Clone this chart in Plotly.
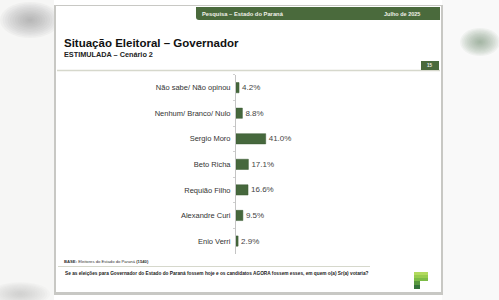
import plotly.graph_objects as go

categories = ["Não sabe/ Não opinou", "Nenhum/ Branco/ Nulo", "Sergio Moro", "Beto Richa",
              "Requião Filho", "Alexandre Curi", "Enio Verri"]
values = [4.2, 8.8, 41.0, 17.1, 16.6, 9.5, 2.9]

W, H = 499, 300
def px(x): return x / W
def py(y): return 1 - y / H

GREEN = "#4a6a3c"
BAR = "#46683d"
FONT = "Liberation Sans, Arial, sans-serif"

fig = go.Figure()
fig.add_trace(go.Bar(
    x=values, y=categories, orientation="h",
    marker=dict(color=BAR, line=dict(color="#3a5a32", width=0.5)),
    width=0.4,
    text=[f"{v:.1f}%" for v in values], textposition="outside",
    textfont=dict(family=FONT, size=8, color="#444444"),
    cliponaxis=False, hoverinfo="skip",
))

shapes = []
# background blobs (blurred photo edges)
def blob(cx, cy, rx, ry, color, steps=12, op=0.06):
    for i in range(steps):
        f = 1 - i / steps
        shapes.append(dict(type="circle", xref="paper", yref="paper",
                           x0=px(cx - rx * f), x1=px(cx + rx * f), y0=py(cy + ry * f), y1=py(cy - ry * f),
                           fillcolor=color, opacity=op, line=dict(width=0), layer="below"))
shapes.append(dict(type="rect", xref="paper", yref="paper", x0=0, x1=px(54), y0=0, y1=1,
                   fillcolor="#f6f6f5", line=dict(width=0), layer="below"))
shapes.append(dict(type="rect", xref="paper", yref="paper", x0=px(442), x1=1, y0=0, y1=1,
                   fillcolor="#f9f9f9", line=dict(width=0), layer="below"))
blob(30, 20, 30, 18, "#8a8a8a", op=0.06)
blob(480, 42, 20, 14, "#6f8f6c", op=0.07)
blob(20, 294, 30, 12, "#b0b0b0", op=0.05)
# card shadow and card
shapes.append(dict(type="rect", xref="paper", yref="paper", x0=px(54), x1=px(443), y0=py(295), y1=py(5),
                   fillcolor="#c8c8c4", line=dict(width=0), layer="below"))
shapes.append(dict(type="rect", xref="paper", yref="paper", x0=px(56), x1=px(441), y0=py(292), y1=py(6),
                   fillcolor="#ffffff", line=dict(width=0), layer="below"))
# header bar
shapes.append(dict(type="path", xref="paper", yref="paper",
                   path=f"M {px(199)} {py(7)} L {px(440)} {py(7)} L {px(440)} {py(20)} L {px(199)} {py(20)} Q {px(196)} {py(20)} {px(196)} {py(17)} L {px(196)} {py(7)} Z",
                   fillcolor=GREEN, line=dict(width=0), layer="below"))
# header separator line
shapes.append(dict(type="line", xref="paper", yref="paper", x0=px(57), x1=px(440), y0=py(70.5), y1=py(70.5),
                   line=dict(color="#d6d8cc", width=1.5), layer="below"))
# page number box
shapes.append(dict(type="rect", xref="paper", yref="paper", x0=px(421), x1=px(439), y0=py(70), y1=py(61),
                   fillcolor=GREEN, line=dict(width=0), layer="below"))
# footer line
shapes.append(dict(type="line", xref="paper", yref="paper", x0=px(58), x1=px(370), y0=py(266.5), y1=py(266.5),
                   line=dict(color="#d6d8cc", width=1), layer="below"))
# logo
logo = [("#b2da5e", 272, 275), ("#98cc4e", 275, 278), ("#7cbc46", 278, 281), ("#58983e", 281, 285), ("#35733a", 285, 289)]
for col, y0, y1 in logo:
    x1 = 428 if y0 < 281 else 420
    shapes.append(dict(type="rect", xref="paper", yref="paper", x0=px(414), x1=px(x1), y0=py(y1), y1=py(y0),
                       fillcolor=col, line=dict(width=0), layer="below"))

annotations = [
    dict(text="<b>Pesquisa – Estado do Paraná</b>", x=px(200), y=py(13.5), xanchor="left", yanchor="middle",
         font=dict(family=FONT, size=5.8, color="#f0f0e8")),
    dict(text="<b>Julho de 2025</b>", x=px(382), y=py(13.5), xanchor="left", yanchor="middle",
         font=dict(family=FONT, size=5.5, color="#f0f0e8")),
    dict(text="<b>Situação Eleitoral – Governador</b>", x=px(62), y=py(43), xanchor="left", yanchor="middle",
         font=dict(family=FONT, size=11.5, color="#111111")),
    dict(text="<b>ESTIMULADA – Cenário 2</b>", x=px(62), y=py(54.5), xanchor="left", yanchor="middle",
         font=dict(family=FONT, size=7.3, color="#222222")),
    dict(text="<b>15</b>", x=px(430), y=py(65.5), xanchor="center", yanchor="middle",
         font=dict(family=FONT, size=4.5, color="#eeeeee")),
    dict(text="<b>BASE:</b> Eleitores do Estado do Paraná <b>(1540)</b>", x=px(62), y=py(261.5),
         xanchor="left", yanchor="middle", font=dict(family=FONT, size=4.2, color="#333333")),
    dict(text="<b>Se as eleições para Governador do Estado do Paraná fossem hoje e os candidatos AGORA fossem esses, em quem o(a) Sr(a) votaria?</b>",
         x=px(63), y=py(273.5), xanchor="left", yanchor="middle", font=dict(family=FONT, size=4.75, color="#222222")),
]
for a in annotations:
    a.update(xref="paper", yref="paper", showarrow=False)

fig.update_layout(
    width=W, height=H, margin=dict(l=0, r=0, t=0, b=0),
    paper_bgcolor="#ffffff", plot_bgcolor="rgba(0,0,0,0)",
    showlegend=False, shapes=shapes, annotations=annotations,
    xaxis=dict(domain=[px(236), px(336)], range=[0, 138], visible=False, fixedrange=True),
    yaxis=dict(domain=[py(253.8), py(74.9)], autorange="reversed", showline=True, linecolor="#c4c4c4",
               linewidth=1, ticks="outside", tickson="boundaries", ticklen=2, tickcolor="#d0d0d0",
               showgrid=False, ticklabelstandoff=3,
               tickfont=dict(family=FONT, size=7.5, color="#333333"), fixedrange=True),
    bargap=0.6,
)

fig.write_html("out.html")
